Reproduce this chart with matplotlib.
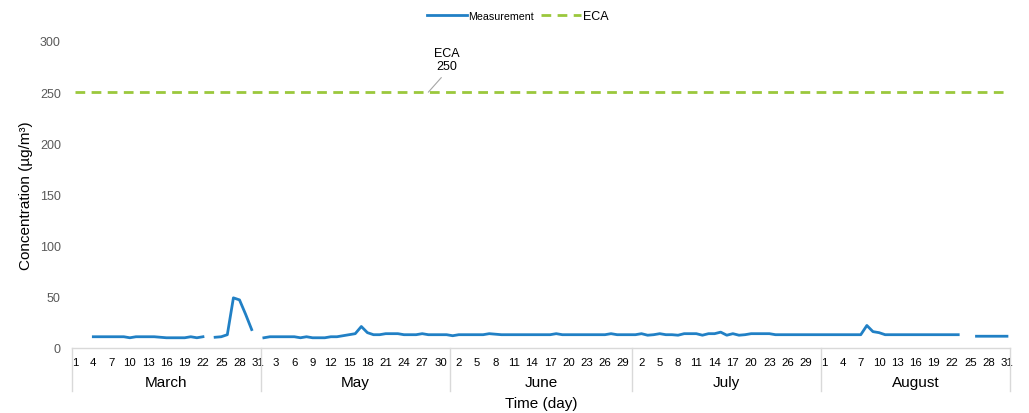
import numpy as np
import matplotlib.pyplot as plt
from matplotlib.transforms import blended_transform_factory

plt.rcParams['font.family'] = ['Liberation Sans', 'DejaVu Sans']

nan = np.nan
months = ["March", "May", "June", "July", "August"]

march = [nan, nan, nan, 11, 11, 11, 11, 11, 11, 10, 11, 11, 11, 11, 10.5, 10,
         10, 10, 10, 11, 10, 11, nan, 10.5, 11, 13, 49, 47, 33, 18, nan]
may = [10, 11, 11, 11, 11, 11, 10, 11, 10, 10, 10, 11, 11, 12, 13, 14,
       21, 15, 13, 13, 14, 14, 14, 13, 13, 13, 14, 13, 13, 13, 13]
june = [12, 13, 13, 13, 13, 13, 14, 13.5, 13, 13, 13, 13, 13, 13, 13, 13,
        13, 14, 13, 13, 13, 13, 13, 13, 13, 13, 14, 13, 13, 13]
july = [13, 14, 12.5, 13, 14, 13, 13, 12.5, 14, 14, 14, 12.5, 14, 14, 15.5, 12.5,
        14, 12.5, 13, 14, 14, 14, 14, 13, 13, 13, 13, 13, 13, 13, 13]
august = [13, 13, 13, 13, 13, 13, 13, 22, 16, 15, 13, 13, 13, 13, 13, 13,
          13, 13, 13, 13, 13, 13, 13, nan, nan, 11.5, 11.5, 11.5, 11.5, 11.5, 11.5]
eca_limit = 250

series = [march, may, june, july, august]
measurement = np.concatenate([np.array(s, dtype=float) for s in series])
days = np.concatenate([np.arange(1, len(s) + 1) for s in series])
n = len(measurement)
x = np.arange(n)

blue = '#2180c5'
green = '#9bc83c'
grid_grey = '#d9d9d9'

fig = plt.figure(figsize=(10.29, 4.14), dpi=100)
ax = fig.add_axes([72 / 1029, 65 / 414, 938 / 1029, 307 / 414])

ax.plot(x, measurement, color=blue, lw=2.0, label='Measurement', solid_joinstyle='round')
ax.plot(x, np.full(n, eca_limit), color=green, lw=2.0, ls=(0, (3.5, 2.3)), label='ECA')

ax.set_xlim(-0.5, n - 0.5)
ax.set_ylim(0, 300)
ax.set_yticks(np.arange(0, 301, 50))
ax.tick_params(axis='y', length=0, labelsize=9, labelcolor='#595959', pad=8)

ticks = x[::3]
ax.set_xticks(ticks)
ax.set_xticklabels([str(d) for d in days[::3]])
ax.tick_params(axis='x', length=0, labelsize=8.2, pad=6.5)

for s in ['top', 'right', 'left']:
    ax.spines[s].set_visible(False)
ax.spines['bottom'].set_color(grid_grey)
ax.spines['bottom'].set_linewidth(1)

# group separators and month labels
trans = blended_transform_factory(ax.transData, ax.transAxes)
start = 0
bounds = [-0.5]
for m, s in zip(months, series):
    end = start + len(s)
    bounds.append(end - 0.5)
    ax.text((start + end - 1) / 2, -0.11, m, transform=trans, ha='center',
            va='center', fontsize=11)
    start = end
for b in bounds:
    ax.plot([b, b], [0, -0.14], transform=trans, color=grid_grey, lw=1, clip_on=False)

ax.text(0.5, -0.178, 'Time (day)', transform=ax.transAxes, ha='center',
        va='center', fontsize=11)
ax.set_ylabel('Concentration (µg/m³)', fontsize=11)
ax.yaxis.set_label_coords(-0.042, 0.5)

ax.annotate(f'ECA\n{eca_limit}', xy=(58, eca_limit), xytext=(61, 282),
            ha='center', va='center', fontsize=9, linespacing=1.05,
            arrowprops=dict(arrowstyle='-', color='#a6a6a6', lw=0.8,
                            relpos=(0.5, 0), shrinkA=3, shrinkB=0))

leg = fig.legend(loc='upper center', bbox_to_anchor=(0.503, 1.0), ncol=2,
                 frameon=False, fontsize=9, handlelength=3.2,
                 columnspacing=0.6, handletextpad=0.1)
leg.get_texts()[0].set_fontsize(7.7)

fig.savefig('out.png', dpi=100)
